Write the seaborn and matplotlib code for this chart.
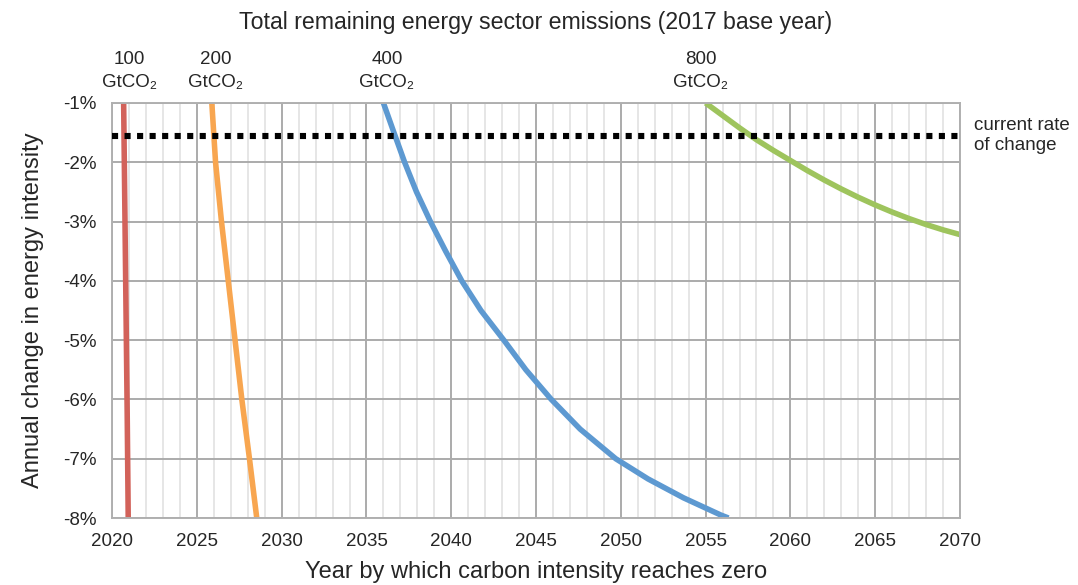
import matplotlib
matplotlib.use("Agg")
import matplotlib.pyplot as plt
from matplotlib.ticker import MultipleLocator, FuncFormatter
import seaborn as sns
import pandas as pd

# data (year, % change per year)
budgets = ["100", "200", "400", "800"]
years_100 = [2020.68, 2020.75, 2020.82, 2020.89, 2020.95]
rate_100 = [-1.0, -2.75, -4.5, -6.25, -8.0]
years_200 = [2025.88, 2026.1, 2026.45, 2026.85, 2027.25, 2027.65, 2028.1, 2028.53]
rate_200 = [-1.0, -2.0, -3.0, -4.0, -5.0, -6.0, -7.0, -8.0]
years_400 = [2036.0, 2036.62, 2037.25, 2037.95, 2038.77, 2039.67, 2040.62, 2041.75,
             2043.1, 2044.4, 2045.9, 2047.6, 2049.7, 2051.6, 2053.7, 2055.9, 2056.35]
rate_400 = [-1.0, -1.5, -2.0, -2.5, -3.0, -3.5, -4.0, -4.5,
            -5.0, -5.5, -6.0, -6.5, -7.0, -7.34, -7.66, -7.95, -8.0]
years_800 = [2055, 2056, 2057, 2058, 2059, 2060, 2061, 2062,
             2063, 2064, 2065, 2066, 2067, 2068, 2069, 2070]
rate_800 = [-1.0, -1.21, -1.42, -1.62, -1.8, -1.97, -2.14, -2.3,
            -2.45, -2.59, -2.72, -2.84, -2.95, -3.05, -3.14, -3.22]
label_years = [2021.0, 2026.1, 2036.2, 2054.7]
current_rate = -1.55

colors = ["#d2625a", "#f8a650", "#5d99d1", "#9ec45d"]

sns.set_style("white")
plt.rcParams["font.family"] = ["Liberation Sans", "DejaVu Sans"]

frames = []
for b, xs, ys in zip(budgets, [years_100, years_200, years_400, years_800],
                     [rate_100, rate_200, rate_400, rate_800]):
    frames.append(pd.DataFrame({"year": xs, "rate": ys, "budget": b}))
df = pd.concat(frames, ignore_index=True)

fig = plt.figure(figsize=(10.78, 5.85), dpi=100)
ax = fig.add_axes([0.104, 0.1145, 0.7865, 0.7095])

ax.xaxis.set_minor_locator(MultipleLocator(1))
ax.grid(True, which="minor", axis="x", color="#e2e2e2", linewidth=1.2, zorder=0)
ax.grid(True, which="major", axis="x", color="#ababab", linewidth=1.4, zorder=0)
ax.grid(True, which="major", axis="y", color="#ababab", linewidth=1.4, zorder=0)
ax.set_axisbelow(True)

sns.lineplot(data=df, x="year", y="rate", hue="budget", palette=colors,
             linewidth=4.0, sort=False, estimator=None, legend=False, ax=ax,
             solid_capstyle="butt", solid_joinstyle="round")

ax.axhline(current_rate, color="black", linewidth=4.4, dashes=(1.0, 1.05),
           dash_capstyle="butt", zorder=3)

ax.set_xlim(2020, 2070)
ax.set_ylim(-8, -1)
ax.xaxis.set_major_locator(MultipleLocator(5))
ax.yaxis.set_major_locator(MultipleLocator(1))
ax.yaxis.set_major_formatter(FuncFormatter(lambda v, p: f"{v:.0f}%"))

for s in ax.spines.values():
    s.set_color("#b0b0b0")
    s.set_linewidth(1.4)

ax.tick_params(axis="both", which="major", direction="out", length=5,
               width=1.2, color="#b0b0b0", labelsize=13.5, pad=6)
ax.tick_params(axis="x", which="minor", length=0)

ax.set_xlabel("Year by which carbon intensity reaches zero", fontsize=17, labelpad=8)
ax.set_ylabel("Annual change in energy intensity", fontsize=17, labelpad=14)

fig.text(0.497, 0.961, "Total remaining energy sector emissions (2017 base year)",
         ha="center", va="center", fontsize=16.7)

for b, lx in zip(budgets, label_years):
    ax.text(lx, 1.03, f"{b}\nGtCO\u2082", transform=ax.get_xaxis_transform(),
            ha="center", va="bottom", fontsize=13.5, linespacing=1.45)

ax.text(1.017, current_rate, "current rate\nof change", transform=ax.get_yaxis_transform(),
        ha="left", va="center", fontsize=13.5, linespacing=1.25)

fig.savefig("out.png", dpi=100)
